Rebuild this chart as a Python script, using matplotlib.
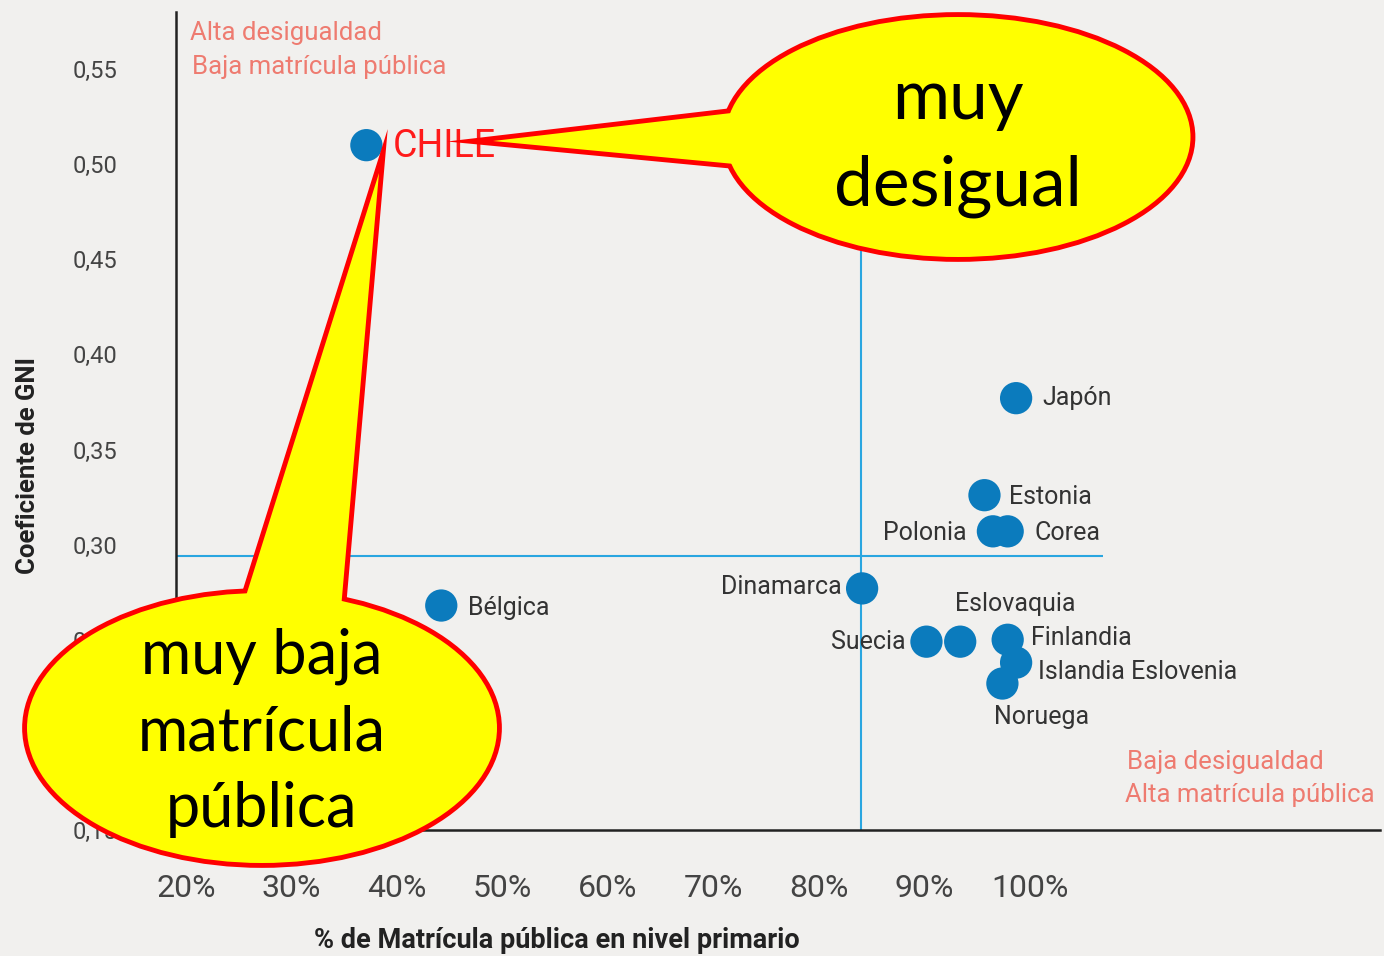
import matplotlib
matplotlib.use("Agg")
import matplotlib.pyplot as plt
from matplotlib.patches import Ellipse, Polygon

plt.rcParams["font.family"] = ["Roboto", "DejaVu Sans"]

# data: % public enrolment (primary) vs GINI coefficient
countries = ["CHILE", "Bélgica", "Japón", "Estonia", "Polonia", "Corea", "Dinamarca",
             "Suecia", "Eslovaquia", "Finlandia", "Islandia Eslovenia", "Noruega"]
matricula = [37.1, 44.2, 98.7, 95.7, 96.5, 97.9, 84.1, 90.2, 93.4, 97.9, 98.7, 97.4]
gini = [0.510, 0.268, 0.377, 0.326, 0.307, 0.307, 0.277, 0.249, 0.249, 0.250, 0.238, 0.227]

# label placement (offset in points, horizontal alignment)
label_pos = {
    "CHILE": (19, -1, "left"), "Bélgica": (19, -2, "left"), "Japón": (19, 0, "left"),
    "Estonia": (18, -1, "left"), "Polonia": (-19, -1, "right"), "Corea": (19, -1, "left"),
    "Dinamarca": (-15, 1, "right"), "Suecia": (-15, 0, "right"),
    "Eslovaquia": (-4, 27, "left"), "Finlandia": (17, 1, "left"),
    "Islandia Eslovenia": (16, -7, "left"), "Noruega": (-6, -24, "left"),
}

x_ticks = [20, 30, 40, 50, 60, 70, 80, 90, 100]
y_ticks = [0.15, 0.20, 0.25, 0.30, 0.35, 0.40, 0.45, 0.50, 0.55]
x_ref = 84.0      # vertical reference line
x_ref_top = 0.47
y_ref = 0.294     # horizontal reference line
y_ref_end = 106.9

bg = "#f1f0ee"
dot_color = "#0b7bbd"
ref_color = "#2aa6e0"
quad_color = "#ee7b70"

fig = plt.figure(figsize=(13.84, 9.56), dpi=100, facecolor=bg)
ax = fig.add_axes([176 / 1384, 126 / 956, 1204 / 1384, 818 / 956])
ax.set_facecolor(bg)
ax.set_xlim(19.05, 133.2)
ax.set_ylim(0.15, 0.58)

for s in ["top", "right"]:
    ax.spines[s].set_visible(False)
for s in ["left", "bottom"]:
    ax.spines[s].set_color("#222222")
    ax.spines[s].set_linewidth(1.8)

ax.set_xticks(x_ticks)
ax.set_xticklabels([f"{v}%" for v in x_ticks], fontsize=23, color="#444444")
ax.set_yticks(y_ticks)
ax.set_yticklabels([f"{v:.2f}".replace(".", ",") for v in y_ticks], fontsize=17, color="#444444")
ax.tick_params(axis="x", length=0, pad=32)
ax.tick_params(axis="y", length=0, pad=42)

ax.set_xlabel("% de Matrícula pública en nivel primario", fontsize=19.5, fontweight="bold",
              color="#222222", va="center")
ax.xaxis.set_label_coords((557 - 176) / 1204, (830 - 941) / 818)
ax.set_ylabel("Coeficiente de GNI", fontsize=18.5, fontweight="bold", color="#222222", va="center")
ax.yaxis.set_label_coords((28 - 176) / 1204, (830 - 465) / 818)

ax.vlines(x_ref, ax.get_ylim()[0], x_ref_top, color=ref_color, lw=1.5, zorder=1)
ax.hlines(y_ref, ax.get_xlim()[0], y_ref_end, color=ref_color, lw=1.5, zorder=1)

ax.scatter(matricula, gini, s=540, color=dot_color, edgecolors="none", zorder=3)
for name, x, y in zip(countries, matricula, gini):
    dx, dy, ha = label_pos[name]
    if name == "CHILE":
        ax.annotate(name, (x, y), xytext=(dx, dy), textcoords="offset points",
                    ha=ha, va="center", fontsize=27, color="#ff1a1a", zorder=4)
    else:
        ax.annotate(name, (x, y), xytext=(dx, dy), textcoords="offset points",
                    ha=ha, va="center", fontsize=18, color="#333333", zorder=4)

# quadrant notes (figure pixel positions)
def fig_xy(px, py):
    return px / 1384, 1 - py / 956

for txt, (px, py) in [("Alta desigualdad", (190, 33)), ("Baja matrícula pública", (192, 67)),
                      ("Baja desigualdad", (1127, 762)), ("Alta matrícula pública", (1125, 795))]:
    fig.text(*fig_xy(px, py), txt, ha="left", va="center", fontsize=18.5, color=quad_color)

# callout bubbles (pixel coordinates on an overlay)
ov = fig.add_axes([0, 0, 1, 1], zorder=10)
ov.set_xlim(0, 1384)
ov.set_ylim(956, 0)
ov.axis("off")
ov.patch.set_alpha(0)

bubbles = [
    ((958, 137), 465, 240, [(493, 141), (740, 112), (745, 165)]),
    ((262, 728), 470, 270, [(379, 173), (240, 615), (340, 620)]),
]
red, yellow = "#ff0000", "#ffff00"
for (c, w, h, tail) in bubbles:
    ov.add_patch(Ellipse(c, w, h, facecolor=yellow, edgecolor=red, lw=7))
    ov.add_patch(Polygon(tail, closed=True, facecolor=yellow, edgecolor=red, lw=7, joinstyle="miter"))
for (c, w, h, tail) in bubbles:
    ov.add_patch(Ellipse(c, w, h, facecolor=yellow, edgecolor="none"))
    ov.add_patch(Polygon(tail, closed=True, facecolor=yellow, edgecolor="none"))

ov.text(958, 143, "muy\ndesigual", ha="center", va="center", fontsize=50,
        family=["Lato", "DejaVu Sans"], color="black", linespacing=1.45)
ov.text(262, 733, "muy baja\nmatrícula\npública", ha="center", va="center", fontsize=44,
        family=["Lato", "DejaVu Sans"], color="black", linespacing=1.42)

fig.savefig("out.png", dpi=100, facecolor=bg)
